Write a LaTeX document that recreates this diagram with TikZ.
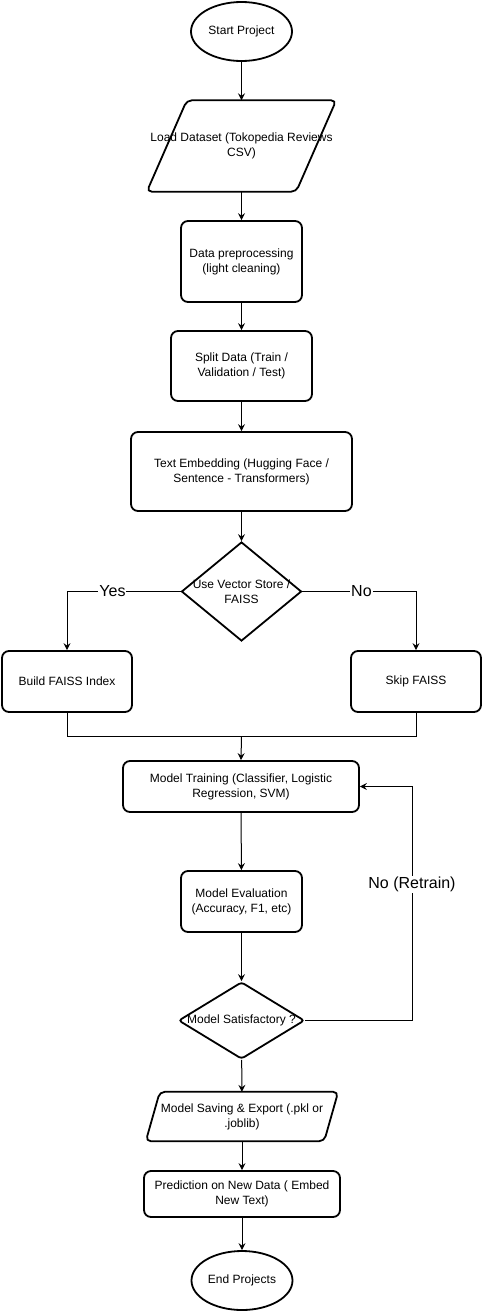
\documentclass[tikz,border=0pt]{standalone}
\usepackage{fontspec}
\setmainfont{Liberation Sans}
\usetikzlibrary{shapes.geometric,arrows.meta}
\begin{document}
\begin{tikzpicture}[x=1pt,y=-1pt,
 base/.style={font=\fontsize{12}{15}\selectfont, align=center, inner sep=0pt},
 proc/.style={base, draw, line width=1.8pt, rounded corners=7pt, rectangle},
 term/.style={base, draw, line width=1.8pt, ellipse},
 dec/.style={draw, line width=1.8pt, diamond, inner sep=0pt},
 io/.style={base, rectangle},
 shp/.style={line width=1.8pt, rounded corners=5pt},
 arr/.style={-{Stealth[length=7pt,width=7pt,inset=2.5pt]}, line width=1pt},
 lnk/.style={line width=1pt},
 lbl/.style={font=\fontsize{16}{19}\selectfont, fill=white, inner sep=1pt}]
\path[use as bounding box, fill=white] (0,0) rectangle (482,1312);

\node[term, minimum width=101, minimum height=59] (start) at (241.5,31.5) {Start Project};

\node[io, minimum width=189, minimum height=91] (load) at (241.5,146) {Load Dataset (Tokopedia Reviews\\CSV)};
\draw[shp] ([xshift=40]load.north west) -- (load.north east) -- ([xshift=-40]load.south east) -- (load.south west) -- cycle;

\node[proc, minimum width=121, minimum height=81] (prep) at (241.5,261.5) {Data preprocessing\\(light cleaning)};
\node[proc, minimum width=141, minimum height=70] (split) at (241.5,366) {Split Data (Train /\\Validation / Test)};
\node[proc, minimum width=221, minimum height=79] (embed) at (241.5,471.5) {Text Embedding (Hugging Face /\\Sentence - Transformers)};

\node[dec, minimum width=120, minimum height=99] (vs) at (241.5,591.5) {};
\node[base] (vstext) at (vs.center) {Use Vector Store /\\FAISS};

\node[proc, minimum width=130, minimum height=61] (build) at (67,681.5) {Build FAISS Index};
\node[proc, minimum width=130, minimum height=61] (skip) at (416,681.5) {Skip FAISS};
\coordinate (join) at (241.5,736);

\node[proc, minimum width=236, minimum height=51] (train) at (241,786.5) {Model Training (Classifier, Logistic\\Regression, SVM)};
\node[proc, minimum width=121, minimum height=61] (eval) at (241.5,901.5) {Model Evaluation\\(Accuracy, F1, etc)};

\node[dec, minimum width=126, minimum height=77, rounded corners=3pt] (sat) at (241.5,1020.5) {};
\node[base] (sattext) at (sat.center) {Model Satisfactory ?};
\coordinate (loop) at (412,786.5);

\node[io, minimum width=192, minimum height=49] (save) at (242,1116.5) {Model Saving \& Export (.pkl or\\.joblib)};
\draw[shp] ([xshift=14]save.north west) -- (save.north east) -- ([xshift=-14]save.south east) -- (save.south west) -- cycle;

\node[proc, minimum width=196, minimum height=46] (pred) at (242,1194) {Prediction on New Data ( Embed\\New Text)};
\node[term, minimum width=101, minimum height=59] (end) at (242,1280.5) {End Projects};

\draw[arr] (start) -- (load);
\draw[arr] (load) -- (prep);
\draw[arr] (prep) -- (split);
\draw[arr] (split) -- (embed);
\draw[arr] (embed) -- (vs);
\draw[arr] (vs.west) -| node[lbl, pos=0.3] (yes) {Yes} (build.north);
\draw[arr] (vs.east) -| node[lbl, pos=0.26] (no) {No} (skip.north);
\draw[lnk] (build.south) |- (join);
\draw[lnk] (skip.south) |- (join);
\draw[arr] (join) -- (train.north);
\draw[arr] (train) -- (eval);
\draw[arr] (eval) -- (sat);
\draw[arr] (sat.east) -| node[lbl, pos=0.79] (retrain) {No (Retrain)} (loop) -- (train.east);
\draw[arr] (sat) -- (save);
\draw[arr] (save) -- (pred);
\draw[arr] (pred) -- (end);
\end{tikzpicture}
\end{document}
